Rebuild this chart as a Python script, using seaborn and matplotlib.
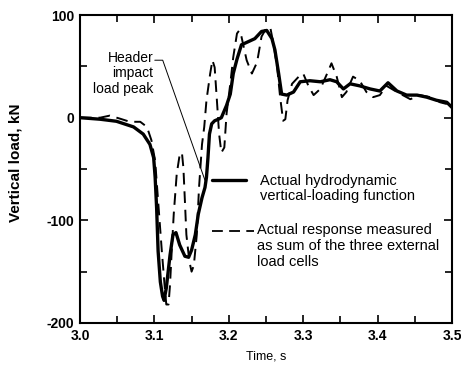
import matplotlib
matplotlib.use("Agg")
import matplotlib.pyplot as plt
from matplotlib.ticker import MultipleLocator
import seaborn as sns
import pandas as pd

# Actual hydrodynamic vertical-loading function (solid)
hydro_time = [3.000, 3.027, 3.049, 3.072, 3.085, 3.094, 3.099, 3.101, 3.103, 3.105,
              3.108, 3.111, 3.113, 3.116, 3.121, 3.125, 3.129, 3.134, 3.141, 3.146,
              3.150, 3.155, 3.159, 3.164, 3.168, 3.170, 3.172, 3.174, 3.177, 3.181,
              3.186, 3.190, 3.197, 3.202, 3.206, 3.211, 3.217, 3.226, 3.235, 3.244,
              3.251, 3.258, 3.262, 3.267, 3.271, 3.278, 3.287, 3.296, 3.309, 3.323,
              3.336, 3.345, 3.354, 3.363, 3.376, 3.390, 3.403, 3.414, 3.426, 3.439,
              3.453, 3.466, 3.479, 3.493, 3.500]
hydro_load = [0, -1.5, -3.5, -9, -16, -26, -39, -58, -88, -130,
              -160, -174, -178, -166, -134, -114, -112, -124, -135, -136,
              -129, -114, -94, -78, -68, -58, -39, -16, -6, -3,
              -1.5, 0, 12, 23, 43, 57, 71, 74, 77, 84,
              85, 77, 66, 43, 23, 22, 25, 35, 36, 35,
              37, 35, 28, 33, 31, 28, 26, 34, 26, 22,
              22, 20, 17, 15, 10]

# Actual response measured as sum of the three external load cells (dashed)
cells_time = [3.000, 3.027, 3.040, 3.054, 3.067, 3.081, 3.090, 3.096, 3.101, 3.105,
              3.110, 3.114, 3.116, 3.119, 3.121, 3.123, 3.126, 3.130, 3.134, 3.137,
              3.139, 3.141, 3.143, 3.147, 3.150, 3.153, 3.157, 3.160, 3.164, 3.167,
              3.170, 3.175, 3.178, 3.181, 3.184, 3.187, 3.190, 3.194, 3.197, 3.202,
              3.206, 3.211, 3.214, 3.217, 3.224, 3.231, 3.238, 3.244, 3.251, 3.256,
              3.260, 3.265, 3.269, 3.273, 3.276, 3.279, 3.285, 3.294, 3.300, 3.307,
              3.314, 3.323, 3.334, 3.338, 3.345, 3.352, 3.358, 3.367, 3.376, 3.385,
              3.394, 3.403, 3.412, 3.426, 3.444, 3.457, 3.471, 3.484, 3.500]
cells_load = [0, 0, 2, -1, -4, -4, -9, -22, -42, -81,
              -130, -166, -182, -182, -163, -134, -94, -55, -36, -34,
              -49, -81, -114, -140, -150, -144, -114, -68, -26, -9,
              17, 43, 56, 49, 17, -16, -34, -29, 4, 33,
              59, 82, 85, 79, 56, 43, 54, 79, 88, 87,
              72, 49, 20, -3, -1.5, 17, 33, 40, 43, 31,
              22, 28, 46, 53, 40, 20, 25, 40, 36, 25,
              20, 22, 31, 25, 18, 22, 20, 15, 12]

x_ticks = [3.0, 3.1, 3.2, 3.3, 3.4, 3.5]
x_tick_labels = ["3.0", "3.1", "3.2", "3.3", "3.4", "3.5"]
y_ticks = [100, 0, -100, -200]
y_tick_labels = ["100", "0", "-100", "-200"]

hydro_df = pd.DataFrame({"time": hydro_time, "load": hydro_load})
cells_df = pd.DataFrame({"time": cells_time, "load": cells_load})

sns.set_theme(style="ticks")
plt.rcParams["font.family"] = ["Liberation Sans", "DejaVu Sans"]
plt.rcParams["text.color"] = "black"
plt.rcParams["axes.labelcolor"] = "black"
plt.rcParams["xtick.color"] = "black"
plt.rcParams["ytick.color"] = "black"

fig = plt.figure(figsize=(4.61, 3.67), dpi=100)
ax = fig.add_axes([0.1735, 0.12, 0.807, 0.839])

dash = (0, (6, 3.5))
sns.lineplot(data=cells_df, x="time", y="load", ax=ax, color="black",
             linewidth=1.4, linestyle=dash)
sns.lineplot(data=hydro_df, x="time", y="load", ax=ax, color="black",
             linewidth=2.4)

ax.set_xlim(3.0, 3.5)
ax.set_ylim(-200, 100)
ax.set_xticks(x_ticks)
ax.set_xticklabels(x_tick_labels, fontweight="bold")
ax.set_yticks(y_ticks)
ax.set_yticklabels(y_tick_labels, fontweight="bold")
ax.xaxis.set_minor_locator(MultipleLocator(0.05))
ax.yaxis.set_minor_locator(MultipleLocator(50))
ax.tick_params(which="both", direction="in", top=True, right=True,
               width=1.2, color="black", labelcolor="black", labelsize=10, pad=4)
ax.tick_params(which="major", length=6)
ax.tick_params(which="minor", length=5)
for spine in ax.spines.values():
    spine.set_linewidth(1.5)
    spine.set_color("black")
    spine.set_visible(True)

ax.set_xlabel("Time, s", fontsize=9, color="black")
ax.set_ylabel("Vertical load, kN", fontsize=11, fontweight="bold", color="black")
ax.xaxis.set_label_coords(0.5, -0.09)
ax.yaxis.set_label_coords(-0.155, 0.52)

# annotation for the header impact peak
ax.text(3.0985, 65, "Header\nimpact\nload peak", fontsize=10, ha="right",
        va="top", linespacing=1.12, color="black")
ax.plot([3.1005, 3.1112, 3.168], [56, 56, -61], color="black", linewidth=0.7)

# in-plot legend
ax.plot([3.178, 3.2235], [-61, -61], color="black", linewidth=2.4)
ax.text(3.242, -69, "Actual hydrodynamic\nvertical-loading function",
        fontsize=10.5, ha="left", va="center", linespacing=1.12, color="black")
ax.plot([3.177, 3.2335], [-110, -110], color="black", linewidth=1.3,
        linestyle=dash)
ax.text(3.2375, -103, "Actual response measured\nas sum of the three external\nload cells",
        fontsize=10.5, ha="left", va="top", linespacing=1.15, color="black")

fig.savefig("out.png", dpi=100)
plt.close(fig)
